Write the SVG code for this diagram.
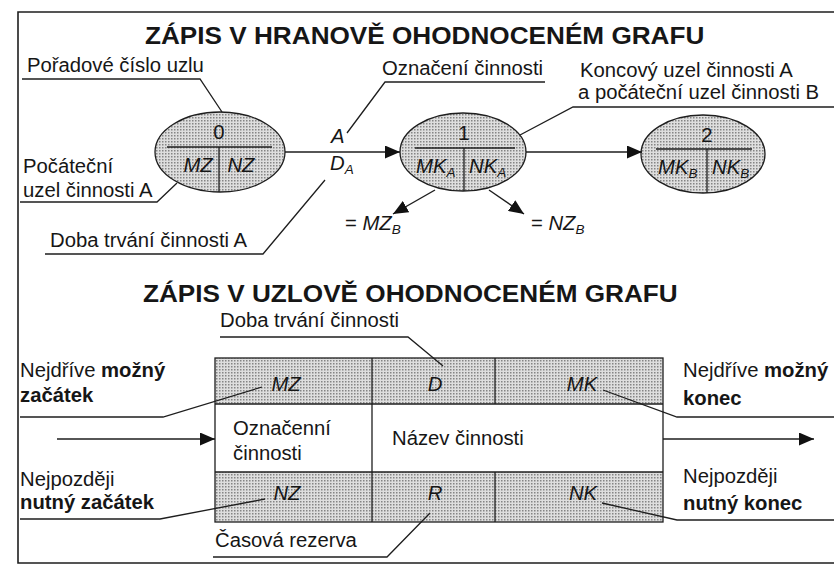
<svg xmlns="http://www.w3.org/2000/svg" width="834" height="570" viewBox="0 0 834 570">
<defs>
<pattern id="dots" width="3" height="3" patternUnits="userSpaceOnUse"><rect width="3" height="3" fill="#dedede"/><rect width="1.5" height="1.5" fill="#858585"/></pattern>
<marker id="ah" markerUnits="userSpaceOnUse" markerWidth="15" markerHeight="13" refX="15" refY="6.5" orient="auto"><path d="M0,0 L15,6.5 L0,13 z" fill="#111"/></marker>
<style>
text{font-family:"Liberation Sans",Arial,Helvetica,sans-serif;font-size:19.5px;fill:#161616}
.ttl{font-size:24px;font-weight:bold}
.it{font-style:italic}
.b{font-weight:bold}
.sub{font-size:13px;font-style:italic}
.m{text-anchor:middle}
.ln{fill:none;stroke:#1e1e1e;stroke-width:1.3}
.frame{fill:none;stroke:#1e1e1e;stroke-width:1.6}
.shape{fill:url(#dots);stroke:#1e1e1e;stroke-width:1.3}
.arr{fill:none;stroke:#1e1e1e;stroke-width:1.4;marker-end:url(#ah)}
</style>
</defs>
<rect width="834" height="570" fill="#fff"/>
<path class="frame" d="M834,12 L18,12 L18,563 L834,563"/>

<!-- titles -->
<text class="ttl" transform="translate(145,44) scale(1.09,1)">ZÁPIS V HRANOVĚ OHODNOCENÉM GRAFU</text>
<text class="ttl" transform="translate(143,302) scale(1.09,1)">ZÁPIS V UZLOVĚ OHODNOCENÉM GRAFU</text>

<!-- node 0 -->
<g id="node0">
<ellipse class="shape" cx="220" cy="152" rx="65" ry="40"/>
<line class="ln" x1="167" y1="147" x2="272" y2="147"/>
<line class="ln" x1="219" y1="147" x2="219" y2="192"/>
<text class="m" transform="translate(219,139) scale(1.04,1)">0</text>
<text class="it m" transform="translate(198,172) scale(1.04,1)">MZ</text>
<text class="it m" transform="translate(241,172) scale(1.04,1)">NZ</text>
</g>

<!-- node 1 -->
<g id="node1">
<ellipse class="shape" cx="463" cy="152" rx="63" ry="39"/>
<line class="ln" x1="415" y1="148" x2="515" y2="148"/>
<line class="ln" x1="464" y1="148" x2="464" y2="191"/>
<text class="m" transform="translate(464,140) scale(1.04,1)">1</text>
<text class="it" transform="translate(416,173) scale(1.04,1)">MK<tspan class="sub" dy="4">A</tspan></text>
<text class="it" transform="translate(469,173) scale(1.04,1)">NK<tspan class="sub" dy="4">A</tspan></text>
</g>

<!-- node 2 -->
<g id="node2">
<ellipse class="shape" cx="703" cy="154" rx="62" ry="39"/>
<line class="ln" x1="656" y1="149" x2="752" y2="149"/>
<line class="ln" x1="707" y1="149" x2="707" y2="193"/>
<text class="m" transform="translate(707,142) scale(1.04,1)">2</text>
<text class="it" transform="translate(658,174) scale(1.04,1)">MK<tspan class="sub" dy="4">B</tspan></text>
<text class="it" transform="translate(712,174) scale(1.04,1)">NK<tspan class="sub" dy="4">B</tspan></text>
</g>

<!-- activity box -->
<g id="activity">
<rect x="215" y="358" width="448" height="46" fill="url(#dots)"/>
<rect x="215" y="472" width="448" height="50" fill="url(#dots)"/>
<rect x="215" y="358" width="448" height="164" fill="none" stroke="#1e1e1e" stroke-width="1.3"/>
<line class="ln" x1="215" y1="404" x2="663" y2="404"/>
<line class="ln" x1="215" y1="472" x2="663" y2="472"/>
<line class="ln" x1="372" y1="358" x2="372" y2="522"/>
<line class="ln" x1="495" y1="358" x2="495" y2="404"/>
<line class="ln" x1="495" y1="472" x2="495" y2="522"/>
<text class="it m" transform="translate(286,391) scale(1.04,1)">MZ</text>
<text class="it m" transform="translate(435,391) scale(1.04,1)">D</text>
<text class="it m" transform="translate(582,391) scale(1.04,1)">MK</text>
<text transform="translate(233,435) scale(1.04,1)">Označenní</text>
<text transform="translate(233,460) scale(1.04,1)">činnosti</text>
<text transform="translate(392,445) scale(1.04,1)">Název činnosti</text>
<text class="it m" transform="translate(287,500) scale(1.04,1)">NZ</text>
<text class="it m" transform="translate(435,500) scale(1.04,1)">R</text>
<text class="it m" transform="translate(583,500) scale(1.04,1)">NK</text>
</g>

<!-- connectors -->
<g id="connectors">
<line class="arr" x1="285" y1="152" x2="400" y2="152"/>
<line class="arr" x1="526" y1="152" x2="642" y2="152"/>
<line class="arr" x1="435" y1="190" x2="393" y2="214"/>
<line class="arr" x1="489" y1="190" x2="524" y2="214"/>
<line class="arr" x1="57" y1="439" x2="215" y2="439"/>
<line class="arr" x1="663" y1="439" x2="814" y2="439"/>
</g>

<!-- leader lines -->
<g id="leaders">
<polyline class="ln" points="22,79 200,79 222,112"/>
<polyline class="ln" points="20,202 157,202 177,183"/>
<polyline class="ln" points="45,254 263,254 325,180"/>
<polyline class="ln" points="545,82 385,82 347,133"/>
<polyline class="ln" points="834,107 573,107 520,135"/>
<polyline class="ln" points="220,337 408,337 443,366"/>
<polyline class="ln" points="20,417 163,417 262,387"/>
<polyline class="ln" points="20,519 160,519 265,499"/>
<polyline class="ln" points="213,557 387,557 430,513"/>
<polyline class="ln" points="834,417 677,417 603,390"/>
<polyline class="ln" points="834,520 677,520 602,503"/>
</g>

<!-- labels -->
<g id="labels">
<text transform="translate(27,72) scale(1.04,1)">Pořadové číslo uzlu</text>
<text transform="translate(23,173) scale(1.04,1)">Počáteční</text>
<text transform="translate(23,197) scale(1.04,1)">uzel činnosti A</text>
<text transform="translate(50,247) scale(1.04,1)">Doba trvání činnosti A</text>
<text transform="translate(382,75) scale(1.04,1)">Označení činnosti</text>
<text transform="translate(580,77) scale(1.04,1)">Koncový uzel činnosti A</text>
<text transform="translate(578,99) scale(1.04,1)">a počáteční uzel činnosti B</text>
<text class="it" transform="translate(331,143) scale(1.04,1)">A</text>
<text class="it" transform="translate(330,170) scale(1.04,1)">D<tspan class="sub" dy="4">A</tspan></text>
<text transform="translate(345,230) scale(1.04,1)">= <tspan class="it">MZ</tspan><tspan class="sub" dy="4">B</tspan></text>
<text transform="translate(531,230) scale(1.04,1)">= <tspan class="it">NZ</tspan><tspan class="sub" dy="4">B</tspan></text>
<text transform="translate(220,327) scale(1.04,1)">Doba trvání činnosti</text>
<text transform="translate(20,377) scale(1.04,1)">Nejdříve <tspan class="b">možný</tspan></text>
<text class="b" transform="translate(20,402) scale(1.04,1)">začátek</text>
<text transform="translate(20,486) scale(1.04,1)">Nejpozději</text>
<text class="b" transform="translate(20,509) scale(1.04,1)">nutný začátek</text>
<text transform="translate(215,547) scale(1.04,1)">Časová rezerva</text>
<text transform="translate(683,377) scale(1.04,1)">Nejdříve <tspan class="b">možný</tspan></text>
<text class="b" transform="translate(683,405) scale(1.04,1)">konec</text>
<text transform="translate(683,483) scale(1.04,1)">Nejpozději</text>
<text class="b" transform="translate(683,510) scale(1.04,1)">nutný konec</text>
</g>
</svg>
